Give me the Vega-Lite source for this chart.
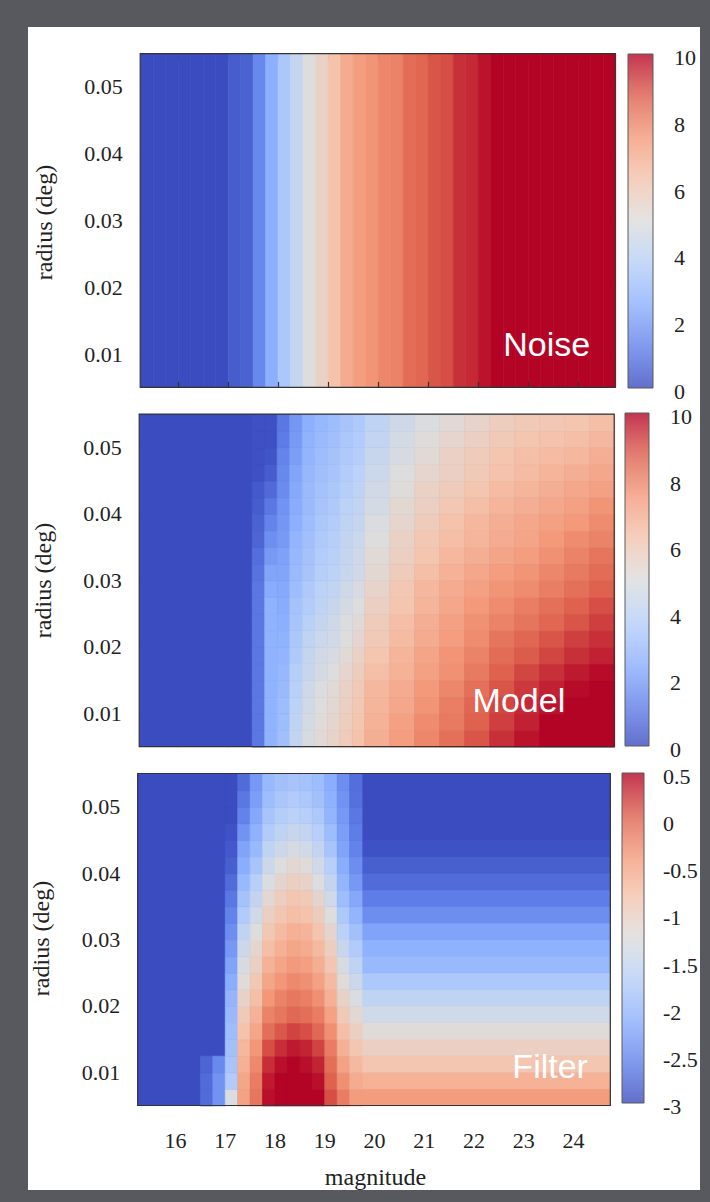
{
"$schema": "https://vega.github.io/schema/vega-lite/v6.json",
"background": "#58595e",
"padding": {"left": 28, "top": 27, "right": 10, "bottom": 12},
"spacing": 0,
"bounds": "flush",
"resolve": {"scale": {"color": "independent", "stroke": "independent"}, "legend": {"color": "independent", "stroke": "independent"}},
"config": {
 "view": {"stroke": null, "fill": "white"},
 "axis": {"domain": false, "grid": false, "tickSize": -6, "tickColor": "#333", "tickWidth": 1.2, "labelFont": "Liberation Serif", "labelFontSize": 22, "labelColor": "#222", "titleFont": "Liberation Serif", "titleFontSize": 24, "titleFontWeight": "normal", "titleColor": "#222"},
 "legend": {"labelFont": "Liberation Serif", "labelFontSize": 22, "labelColor": "#222", "labelOffset": 20, "padding": 0, "gradientStrokeColor": "#333", "gradientStrokeWidth": 1, "labelOverlap": false, "gradientOpacity": 0.8}
},
"datasets": {
 "noise": [
  {"x":15.375,"v":0},{"x":15.625,"v":0},{"x":15.875,"v":0},{"x":16.125,"v":0},{"x":16.375,"v":0},{"x":16.625,"v":0},{"x":16.875,"v":0},
  {"x":17.125,"v":0.4},{"x":17.375,"v":0.5},{"x":17.625,"v":1.4},{"x":17.875,"v":2.5},{"x":18.125,"v":3.4},{"x":18.375,"v":4.2},{"x":18.625,"v":5.0},{"x":18.875,"v":5.6},
  {"x":19.125,"v":6.3},{"x":19.375,"v":7.0},{"x":19.625,"v":7.4},{"x":19.875,"v":7.6},{"x":20.125,"v":7.9},{"x":20.375,"v":8.0},{"x":20.625,"v":8.5},{"x":20.875,"v":8.6},
  {"x":21.125,"v":8.9},{"x":21.375,"v":9.0},{"x":21.625,"v":9.4},{"x":21.875,"v":9.5},{"x":22.125,"v":9.8},{"x":22.375,"v":10},{"x":22.625,"v":10},{"x":22.875,"v":10},
  {"x":23.125,"v":10},{"x":23.375,"v":10},{"x":23.625,"v":10},{"x":23.875,"v":10},{"x":24.125,"v":10},{"x":24.375,"v":10},{"x":24.625,"v":10}
 ],
 "frame": [{"x0":15.25,"x1":24.75,"y0":0.005,"y1":0.055}],
 "labels": [{"p":"N","x":24.25,"y":0.0097,"t":"Noise"},{"p":"M","x":23.77,"y":0.0102,"t":"Model"},{"p":"F","x":24.3,"y":0.00914,"t":"Filter"}],
 "mblk": [{"x0":15.25,"x1":24.75,"y0":0.005,"y1":0.055,"v":0}],
 "mA": [
  {"x":17.625,"y":0.00625,"v":1.0},{"x":17.625,"y":0.00875,"v":1.0},{"x":17.625,"y":0.01125,"v":1.0},{"x":17.625,"y":0.01375,"v":1.0},{"x":17.625,"y":0.01625,"v":1.0},{"x":17.625,"y":0.01875,"v":1.0},{"x":17.625,"y":0.02125,"v":1.0},{"x":17.625,"y":0.02375,"v":1.0},{"x":17.625,"y":0.02625,"v":1.0},{"x":17.625,"y":0.02875,"v":1.0},{"x":17.625,"y":0.03125,"v":0.9},{"x":17.625,"y":0.03375,"v":0.8},{"x":17.625,"y":0.03625,"v":0.6},{"x":17.625,"y":0.03875,"v":0.5},{"x":17.625,"y":0.04125,"v":0.4},{"x":17.625,"y":0.04375,"v":0.3},{"x":17.625,"y":0.04625,"v":0.1},{"x":17.625,"y":0.04875,"v":0.1},{"x":17.625,"y":0.05125,"v":0.1},{"x":17.625,"y":0.05375,"v":0.1},
  {"x":17.875,"y":0.00625,"v":2.6},{"x":17.875,"y":0.00875,"v":2.6},{"x":17.875,"y":0.01125,"v":2.6},{"x":17.875,"y":0.01375,"v":2.6},{"x":17.875,"y":0.01625,"v":2.6},{"x":17.875,"y":0.01875,"v":2.6},{"x":17.875,"y":0.02125,"v":2.6},{"x":17.875,"y":0.02375,"v":2.6},{"x":17.875,"y":0.02625,"v":2.6},{"x":17.875,"y":0.02875,"v":2.4},{"x":17.875,"y":0.03125,"v":2.2},{"x":17.875,"y":0.03375,"v":1.9},{"x":17.875,"y":0.03625,"v":1.6},{"x":17.875,"y":0.03875,"v":1.3},{"x":17.875,"y":0.04125,"v":1.0},{"x":17.875,"y":0.04375,"v":0.7},{"x":17.875,"y":0.04625,"v":0.4},{"x":17.875,"y":0.04875,"v":0.2},{"x":17.875,"y":0.05125,"v":0.1},{"x":17.875,"y":0.05375,"v":0.1},
  {"x":18.125,"y":0.00625,"v":3.1},{"x":18.125,"y":0.00875,"v":3.0},{"x":18.125,"y":0.01125,"v":3.0},{"x":18.125,"y":0.01375,"v":2.9},{"x":18.125,"y":0.01625,"v":2.8},{"x":18.125,"y":0.01875,"v":2.7},{"x":18.125,"y":0.02125,"v":2.6},{"x":18.125,"y":0.02375,"v":2.5},{"x":18.125,"y":0.02625,"v":2.4},{"x":18.125,"y":0.02875,"v":2.3},{"x":18.125,"y":0.03125,"v":2.2},{"x":18.125,"y":0.03375,"v":2.1},{"x":18.125,"y":0.03625,"v":1.9},{"x":18.125,"y":0.03875,"v":1.8},{"x":18.125,"y":0.04125,"v":1.7},{"x":18.125,"y":0.04375,"v":1.5},{"x":18.125,"y":0.04625,"v":1.4},{"x":18.125,"y":0.04875,"v":1.3},{"x":18.125,"y":0.05125,"v":1.1},{"x":18.125,"y":0.05375,"v":1.0},
  {"x":18.375,"y":0.00625,"v":4.1},{"x":18.375,"y":0.00875,"v":4.0},{"x":18.375,"y":0.01125,"v":3.9},{"x":18.375,"y":0.01375,"v":3.8},{"x":18.375,"y":0.01625,"v":3.7},{"x":18.375,"y":0.01875,"v":3.5},{"x":18.375,"y":0.02125,"v":3.4},{"x":18.375,"y":0.02375,"v":3.3},{"x":18.375,"y":0.02625,"v":3.2},{"x":18.375,"y":0.02875,"v":3.0},{"x":18.375,"y":0.03125,"v":2.9},{"x":18.375,"y":0.03375,"v":2.8},{"x":18.375,"y":0.03625,"v":2.7},{"x":18.375,"y":0.03875,"v":2.5},{"x":18.375,"y":0.04125,"v":2.4},{"x":18.375,"y":0.04375,"v":2.3},{"x":18.375,"y":0.04625,"v":2.2},{"x":18.375,"y":0.04875,"v":2.0},{"x":18.375,"y":0.05125,"v":1.9},{"x":18.375,"y":0.05375,"v":1.8},
  {"x":18.625,"y":0.00625,"v":4.8},{"x":18.625,"y":0.00875,"v":4.7},{"x":18.625,"y":0.01125,"v":4.6},{"x":18.625,"y":0.01375,"v":4.5},{"x":18.625,"y":0.01625,"v":4.3},{"x":18.625,"y":0.01875,"v":4.2},{"x":18.625,"y":0.02125,"v":4.0},{"x":18.625,"y":0.02375,"v":3.8},{"x":18.625,"y":0.02625,"v":3.6},{"x":18.625,"y":0.02875,"v":3.5},{"x":18.625,"y":0.03125,"v":3.3},{"x":18.625,"y":0.03375,"v":3.2},{"x":18.625,"y":0.03625,"v":3.1},{"x":18.625,"y":0.03875,"v":3.0},{"x":18.625,"y":0.04125,"v":2.9},{"x":18.625,"y":0.04375,"v":2.9},{"x":18.625,"y":0.04625,"v":2.8},{"x":18.625,"y":0.04875,"v":2.7},{"x":18.625,"y":0.05125,"v":2.6},{"x":18.625,"y":0.05375,"v":2.5},
  {"x":18.875,"y":0.00625,"v":5.2},{"x":18.875,"y":0.00875,"v":5.1},{"x":18.875,"y":0.01125,"v":5.0},{"x":18.875,"y":0.01375,"v":4.9},{"x":18.875,"y":0.01625,"v":4.7},{"x":18.875,"y":0.01875,"v":4.6},{"x":18.875,"y":0.02125,"v":4.4},{"x":18.875,"y":0.02375,"v":4.2},{"x":18.875,"y":0.02625,"v":4.0},{"x":18.875,"y":0.02875,"v":3.9},{"x":18.875,"y":0.03125,"v":3.7},{"x":18.875,"y":0.03375,"v":3.6},{"x":18.875,"y":0.03625,"v":3.5},{"x":18.875,"y":0.03875,"v":3.4},{"x":18.875,"y":0.04125,"v":3.3},{"x":18.875,"y":0.04375,"v":3.2},{"x":18.875,"y":0.04625,"v":3.1},{"x":18.875,"y":0.04875,"v":3.0},{"x":18.875,"y":0.05125,"v":2.9},{"x":18.875,"y":0.05375,"v":2.8},
  {"x":19.125,"y":0.00625,"v":5.5},{"x":19.125,"y":0.00875,"v":5.4},{"x":19.125,"y":0.01125,"v":5.3},{"x":19.125,"y":0.01375,"v":5.2},{"x":19.125,"y":0.01625,"v":5.0},{"x":19.125,"y":0.01875,"v":4.8},{"x":19.125,"y":0.02125,"v":4.6},{"x":19.125,"y":0.02375,"v":4.5},{"x":19.125,"y":0.02625,"v":4.3},{"x":19.125,"y":0.02875,"v":4.1},{"x":19.125,"y":0.03125,"v":3.9},{"x":19.125,"y":0.03375,"v":3.8},{"x":19.125,"y":0.03625,"v":3.7},{"x":19.125,"y":0.03875,"v":3.6},{"x":19.125,"y":0.04125,"v":3.5},{"x":19.125,"y":0.04375,"v":3.4},{"x":19.125,"y":0.04625,"v":3.3},{"x":19.125,"y":0.04875,"v":3.2},{"x":19.125,"y":0.05125,"v":3.1},{"x":19.125,"y":0.05375,"v":3.0},
  {"x":19.375,"y":0.00625,"v":5.9},{"x":19.375,"y":0.00875,"v":5.8},{"x":19.375,"y":0.01125,"v":5.7},{"x":19.375,"y":0.01375,"v":5.6},{"x":19.375,"y":0.01625,"v":5.4},{"x":19.375,"y":0.01875,"v":5.2},{"x":19.375,"y":0.02125,"v":5.0},{"x":19.375,"y":0.02375,"v":4.9},{"x":19.375,"y":0.02625,"v":4.7},{"x":19.375,"y":0.02875,"v":4.5},{"x":19.375,"y":0.03125,"v":4.3},{"x":19.375,"y":0.03375,"v":4.2},{"x":19.375,"y":0.03625,"v":4.1},{"x":19.375,"y":0.03875,"v":4.0},{"x":19.375,"y":0.04125,"v":3.9},{"x":19.375,"y":0.04375,"v":3.7},{"x":19.375,"y":0.04625,"v":3.6},{"x":19.375,"y":0.04875,"v":3.5},{"x":19.375,"y":0.05125,"v":3.4},{"x":19.375,"y":0.05375,"v":3.3},
  {"x":19.625,"y":0.00625,"v":6.3},{"x":19.625,"y":0.00875,"v":6.2},{"x":19.625,"y":0.01125,"v":6.1},{"x":19.625,"y":0.01375,"v":6.0},{"x":19.625,"y":0.01625,"v":5.8},{"x":19.625,"y":0.01875,"v":5.6},{"x":19.625,"y":0.02125,"v":5.4},{"x":19.625,"y":0.02375,"v":5.2},{"x":19.625,"y":0.02625,"v":5.0},{"x":19.625,"y":0.02875,"v":4.8},{"x":19.625,"y":0.03125,"v":4.6},{"x":19.625,"y":0.03375,"v":4.5},{"x":19.625,"y":0.03625,"v":4.4},{"x":19.625,"y":0.03875,"v":4.2},{"x":19.625,"y":0.04125,"v":4.1},{"x":19.625,"y":0.04375,"v":4.0},{"x":19.625,"y":0.04625,"v":3.9},{"x":19.625,"y":0.04875,"v":3.7},{"x":19.625,"y":0.05125,"v":3.6},{"x":19.625,"y":0.05375,"v":3.5}
 ],
 "mB": [
  {"x":20.0,"y":0.00625,"v":6.9},{"x":20.0,"y":0.00875,"v":6.8},{"x":20.0,"y":0.01125,"v":6.7},{"x":20.0,"y":0.01375,"v":6.6},{"x":20.0,"y":0.01625,"v":6.4},{"x":20.0,"y":0.01875,"v":6.2},{"x":20.0,"y":0.02125,"v":6.0},{"x":20.0,"y":0.02375,"v":5.9},{"x":20.0,"y":0.02625,"v":5.7},{"x":20.0,"y":0.02875,"v":5.5},{"x":20.0,"y":0.03125,"v":5.3},{"x":20.0,"y":0.03375,"v":5.2},{"x":20.0,"y":0.03625,"v":5.0},{"x":20.0,"y":0.03875,"v":4.9},{"x":20.0,"y":0.04125,"v":4.7},{"x":20.0,"y":0.04375,"v":4.6},{"x":20.0,"y":0.04625,"v":4.4},{"x":20.0,"y":0.04875,"v":4.3},{"x":20.0,"y":0.05125,"v":4.1},{"x":20.0,"y":0.05375,"v":4.0},
  {"x":20.5,"y":0.00625,"v":7.4},{"x":20.5,"y":0.00875,"v":7.3},{"x":20.5,"y":0.01125,"v":7.1},{"x":20.5,"y":0.01375,"v":7.0},{"x":20.5,"y":0.01625,"v":6.8},{"x":20.5,"y":0.01875,"v":6.7},{"x":20.5,"y":0.02125,"v":6.5},{"x":20.5,"y":0.02375,"v":6.4},{"x":20.5,"y":0.02625,"v":6.2},{"x":20.5,"y":0.02875,"v":6.1},{"x":20.5,"y":0.03125,"v":5.9},{"x":20.5,"y":0.03375,"v":5.7},{"x":20.5,"y":0.03625,"v":5.6},{"x":20.5,"y":0.03875,"v":5.4},{"x":20.5,"y":0.04125,"v":5.3},{"x":20.5,"y":0.04375,"v":5.1},{"x":20.5,"y":0.04625,"v":5.0},{"x":20.5,"y":0.04875,"v":4.8},{"x":20.5,"y":0.05125,"v":4.7},{"x":20.5,"y":0.05375,"v":4.5},
  {"x":21.0,"y":0.00625,"v":7.9},{"x":21.0,"y":0.00875,"v":7.8},{"x":21.0,"y":0.01125,"v":7.6},{"x":21.0,"y":0.01375,"v":7.5},{"x":21.0,"y":0.01625,"v":7.3},{"x":21.0,"y":0.01875,"v":7.2},{"x":21.0,"y":0.02125,"v":7.0},{"x":21.0,"y":0.02375,"v":6.9},{"x":21.0,"y":0.02625,"v":6.7},{"x":21.0,"y":0.02875,"v":6.6},{"x":21.0,"y":0.03125,"v":6.4},{"x":21.0,"y":0.03375,"v":6.2},{"x":21.0,"y":0.03625,"v":6.1},{"x":21.0,"y":0.03875,"v":5.9},{"x":21.0,"y":0.04125,"v":5.7},{"x":21.0,"y":0.04375,"v":5.6},{"x":21.0,"y":0.04625,"v":5.4},{"x":21.0,"y":0.04875,"v":5.2},{"x":21.0,"y":0.05125,"v":5.1},{"x":21.0,"y":0.05375,"v":4.9},
  {"x":21.5,"y":0.00625,"v":8.4},{"x":21.5,"y":0.00875,"v":8.2},{"x":21.5,"y":0.01125,"v":8.1},{"x":21.5,"y":0.01375,"v":7.9},{"x":21.5,"y":0.01625,"v":7.7},{"x":21.5,"y":0.01875,"v":7.6},{"x":21.5,"y":0.02125,"v":7.4},{"x":21.5,"y":0.02375,"v":7.3},{"x":21.5,"y":0.02625,"v":7.1},{"x":21.5,"y":0.02875,"v":7.0},{"x":21.5,"y":0.03125,"v":6.8},{"x":21.5,"y":0.03375,"v":6.6},{"x":21.5,"y":0.03625,"v":6.4},{"x":21.5,"y":0.03875,"v":6.3},{"x":21.5,"y":0.04125,"v":6.1},{"x":21.5,"y":0.04375,"v":5.9},{"x":21.5,"y":0.04625,"v":5.7},{"x":21.5,"y":0.04875,"v":5.6},{"x":21.5,"y":0.05125,"v":5.4},{"x":21.5,"y":0.05375,"v":5.2},
  {"x":22.0,"y":0.00625,"v":8.9},{"x":22.0,"y":0.00875,"v":8.7},{"x":22.0,"y":0.01125,"v":8.6},{"x":22.0,"y":0.01375,"v":8.4},{"x":22.0,"y":0.01625,"v":8.2},{"x":22.0,"y":0.01875,"v":8.0},{"x":22.0,"y":0.02125,"v":7.8},{"x":22.0,"y":0.02375,"v":7.7},{"x":22.0,"y":0.02625,"v":7.5},{"x":22.0,"y":0.02875,"v":7.3},{"x":22.0,"y":0.03125,"v":7.1},{"x":22.0,"y":0.03375,"v":6.9},{"x":22.0,"y":0.03625,"v":6.7},{"x":22.0,"y":0.03875,"v":6.6},{"x":22.0,"y":0.04125,"v":6.4},{"x":22.0,"y":0.04375,"v":6.2},{"x":22.0,"y":0.04625,"v":6.0},{"x":22.0,"y":0.04875,"v":5.9},{"x":22.0,"y":0.05125,"v":5.7},{"x":22.0,"y":0.05375,"v":5.5},
  {"x":22.5,"y":0.00625,"v":9.4},{"x":22.5,"y":0.00875,"v":9.2},{"x":22.5,"y":0.01125,"v":9.1},{"x":22.5,"y":0.01375,"v":8.9},{"x":22.5,"y":0.01625,"v":8.7},{"x":22.5,"y":0.01875,"v":8.5},{"x":22.5,"y":0.02125,"v":8.3},{"x":22.5,"y":0.02375,"v":8.0},{"x":22.5,"y":0.02625,"v":7.8},{"x":22.5,"y":0.02875,"v":7.6},{"x":22.5,"y":0.03125,"v":7.4},{"x":22.5,"y":0.03375,"v":7.2},{"x":22.5,"y":0.03625,"v":7.0},{"x":22.5,"y":0.03875,"v":6.9},{"x":22.5,"y":0.04125,"v":6.7},{"x":22.5,"y":0.04375,"v":6.5},{"x":22.5,"y":0.04625,"v":6.3},{"x":22.5,"y":0.04875,"v":6.2},{"x":22.5,"y":0.05125,"v":6.0},{"x":22.5,"y":0.05375,"v":5.8},
  {"x":23.0,"y":0.00625,"v":9.8},{"x":23.0,"y":0.00875,"v":9.6},{"x":23.0,"y":0.01125,"v":9.5},{"x":23.0,"y":0.01375,"v":9.3},{"x":23.0,"y":0.01625,"v":9.1},{"x":23.0,"y":0.01875,"v":8.8},{"x":23.0,"y":0.02125,"v":8.6},{"x":23.0,"y":0.02375,"v":8.3},{"x":23.0,"y":0.02625,"v":8.1},{"x":23.0,"y":0.02875,"v":7.8},{"x":23.0,"y":0.03125,"v":7.6},{"x":23.0,"y":0.03375,"v":7.4},{"x":23.0,"y":0.03625,"v":7.2},{"x":23.0,"y":0.03875,"v":7.1},{"x":23.0,"y":0.04125,"v":6.9},{"x":23.0,"y":0.04375,"v":6.7},{"x":23.0,"y":0.04625,"v":6.5},{"x":23.0,"y":0.04875,"v":6.4},{"x":23.0,"y":0.05125,"v":6.2},{"x":23.0,"y":0.05375,"v":6.0},
  {"x":23.5,"y":0.00625,"v":10.2},{"x":23.5,"y":0.00875,"v":10.0},{"x":23.5,"y":0.01125,"v":9.8},{"x":23.5,"y":0.01375,"v":9.6},{"x":23.5,"y":0.01625,"v":9.4},{"x":23.5,"y":0.01875,"v":9.1},{"x":23.5,"y":0.02125,"v":8.9},{"x":23.5,"y":0.02375,"v":8.6},{"x":23.5,"y":0.02625,"v":8.4},{"x":23.5,"y":0.02875,"v":8.1},{"x":23.5,"y":0.03125,"v":7.9},{"x":23.5,"y":0.03375,"v":7.7},{"x":23.5,"y":0.03625,"v":7.5},{"x":23.5,"y":0.03875,"v":7.3},{"x":23.5,"y":0.04125,"v":7.1},{"x":23.5,"y":0.04375,"v":6.9},{"x":23.5,"y":0.04625,"v":6.7},{"x":23.5,"y":0.04875,"v":6.5},{"x":23.5,"y":0.05125,"v":6.3},{"x":23.5,"y":0.05375,"v":6.1},
  {"x":24.0,"y":0.00625,"v":10.4},{"x":24.0,"y":0.00875,"v":10.2},{"x":24.0,"y":0.01125,"v":10.1},{"x":24.0,"y":0.01375,"v":9.9},{"x":24.0,"y":0.01625,"v":9.7},{"x":24.0,"y":0.01875,"v":9.4},{"x":24.0,"y":0.02125,"v":9.2},{"x":24.0,"y":0.02375,"v":8.9},{"x":24.0,"y":0.02625,"v":8.7},{"x":24.0,"y":0.02875,"v":8.4},{"x":24.0,"y":0.03125,"v":8.2},{"x":24.0,"y":0.03375,"v":8.0},{"x":24.0,"y":0.03625,"v":7.8},{"x":24.0,"y":0.03875,"v":7.5},{"x":24.0,"y":0.04125,"v":7.3},{"x":24.0,"y":0.04375,"v":7.1},{"x":24.0,"y":0.04625,"v":6.9},{"x":24.0,"y":0.04875,"v":6.6},{"x":24.0,"y":0.05125,"v":6.4},{"x":24.0,"y":0.05375,"v":6.2},
  {"x":24.5,"y":0.00625,"v":10.6},{"x":24.5,"y":0.00875,"v":10.4},{"x":24.5,"y":0.01125,"v":10.3},{"x":24.5,"y":0.01375,"v":10.1},{"x":24.5,"y":0.01625,"v":9.9},{"x":24.5,"y":0.01875,"v":9.6},{"x":24.5,"y":0.02125,"v":9.4},{"x":24.5,"y":0.02375,"v":9.2},{"x":24.5,"y":0.02625,"v":9.0},{"x":24.5,"y":0.02875,"v":8.7},{"x":24.5,"y":0.03125,"v":8.5},{"x":24.5,"y":0.03375,"v":8.3},{"x":24.5,"y":0.03625,"v":8.0},{"x":24.5,"y":0.03875,"v":7.8},{"x":24.5,"y":0.04125,"v":7.6},{"x":24.5,"y":0.04375,"v":7.3},{"x":24.5,"y":0.04625,"v":7.1},{"x":24.5,"y":0.04875,"v":6.9},{"x":24.5,"y":0.05125,"v":6.6},{"x":24.5,"y":0.05375,"v":6.4}
 ],
 "fblk": [
  {"x0":15.25,"x1":24.75,"y0":0.005,"y1":0.055,"v":-3},
  {"x0":19.75,"x1":24.75,"y0":0.005,"y1":0.0075,"v":-0.4},
  {"x0":19.75,"x1":24.75,"y0":0.0075,"y1":0.01,"v":-0.62},
  {"x0":19.75,"x1":24.75,"y0":0.01,"y1":0.0125,"v":-0.85},
  {"x0":19.75,"x1":24.75,"y0":0.0125,"y1":0.015,"v":-1.0},
  {"x0":19.75,"x1":24.75,"y0":0.015,"y1":0.0175,"v":-1.2},
  {"x0":19.75,"x1":24.75,"y0":0.0175,"y1":0.02,"v":-1.4},
  {"x0":19.75,"x1":24.75,"y0":0.02,"y1":0.0225,"v":-1.6},
  {"x0":19.75,"x1":24.75,"y0":0.0225,"y1":0.025,"v":-1.8},
  {"x0":19.75,"x1":24.75,"y0":0.025,"y1":0.0275,"v":-2.0},
  {"x0":19.75,"x1":24.75,"y0":0.0275,"y1":0.03,"v":-2.1},
  {"x0":19.75,"x1":24.75,"y0":0.03,"y1":0.0325,"v":-2.25},
  {"x0":19.75,"x1":24.75,"y0":0.0325,"y1":0.035,"v":-2.45},
  {"x0":19.75,"x1":24.75,"y0":0.035,"y1":0.0375,"v":-2.6},
  {"x0":19.75,"x1":24.75,"y0":0.0375,"y1":0.04,"v":-2.75},
  {"x0":19.75,"x1":24.75,"y0":0.04,"y1":0.0425,"v":-2.85},
  {"x0":19.75,"x1":24.75,"y0":0.0425,"y1":0.045,"v":-2.95}
 ],
 "fC": [
  {"x":16.625,"y":0.00625,"v":-2.75},{"x":16.625,"y":0.00875,"v":-2.75},{"x":16.625,"y":0.01125,"v":-2.8},
  {"x":16.875,"y":0.00625,"v":-2.4},{"x":16.875,"y":0.00875,"v":-2.4},{"x":16.875,"y":0.01125,"v":-2.5},
  {"x":17.125,"y":0.00625,"v":-1.3},{"x":17.125,"y":0.00875,"v":-1.75},{"x":17.125,"y":0.01125,"v":-1.85},{"x":17.125,"y":0.01375,"v":-1.9},{"x":17.125,"y":0.01625,"v":-1.95},{"x":17.125,"y":0.01875,"v":-2.0},{"x":17.125,"y":0.02125,"v":-2.05},{"x":17.125,"y":0.02375,"v":-2.15},{"x":17.125,"y":0.02625,"v":-2.25},{"x":17.125,"y":0.02875,"v":-2.35},{"x":17.125,"y":0.03125,"v":-2.45},{"x":17.125,"y":0.03375,"v":-2.55},{"x":17.125,"y":0.03625,"v":-2.65},{"x":17.125,"y":0.03875,"v":-2.75},{"x":17.125,"y":0.04125,"v":-2.85},{"x":17.125,"y":0.04375,"v":-2.9},{"x":17.125,"y":0.04625,"v":-2.95},{"x":17.125,"y":0.04875,"v":-3},{"x":17.125,"y":0.05125,"v":-3},{"x":17.125,"y":0.05375,"v":-3},
  {"x":17.375,"y":0.00625,"v":-0.45},{"x":17.375,"y":0.00875,"v":-0.5},{"x":17.375,"y":0.01125,"v":-0.6},{"x":17.375,"y":0.01375,"v":-0.68},{"x":17.375,"y":0.01625,"v":-0.8},{"x":17.375,"y":0.01875,"v":-0.92},{"x":17.375,"y":0.02125,"v":-1.05},{"x":17.375,"y":0.02375,"v":-1.2},{"x":17.375,"y":0.02625,"v":-1.32},{"x":17.375,"y":0.02875,"v":-1.45},{"x":17.375,"y":0.03125,"v":-1.6},{"x":17.375,"y":0.03375,"v":-1.75},{"x":17.375,"y":0.03625,"v":-1.88},{"x":17.375,"y":0.03875,"v":-2.0},{"x":17.375,"y":0.04125,"v":-2.15},{"x":17.375,"y":0.04375,"v":-2.25},{"x":17.375,"y":0.04625,"v":-2.4},{"x":17.375,"y":0.04875,"v":-2.55},{"x":17.375,"y":0.05125,"v":-2.65},{"x":17.375,"y":0.05375,"v":-2.75},
  {"x":17.625,"y":0.00625,"v":-0.1},{"x":17.625,"y":0.00875,"v":-0.15},{"x":17.625,"y":0.01125,"v":-0.25},{"x":17.625,"y":0.01375,"v":-0.35},{"x":17.625,"y":0.01625,"v":-0.5},{"x":17.625,"y":0.01875,"v":-0.62},{"x":17.625,"y":0.02125,"v":-0.75},{"x":17.625,"y":0.02375,"v":-0.88},{"x":17.625,"y":0.02625,"v":-1.0},{"x":17.625,"y":0.02875,"v":-1.12},{"x":17.625,"y":0.03125,"v":-1.25},{"x":17.625,"y":0.03375,"v":-1.4},{"x":17.625,"y":0.03625,"v":-1.55},{"x":17.625,"y":0.03875,"v":-1.7},{"x":17.625,"y":0.04125,"v":-1.85},{"x":17.625,"y":0.04375,"v":-2.0},{"x":17.625,"y":0.04625,"v":-2.1},{"x":17.625,"y":0.04875,"v":-2.2},{"x":17.625,"y":0.05125,"v":-2.3},{"x":17.625,"y":0.05375,"v":-2.35},
  {"x":17.875,"y":0.00625,"v":0.45},{"x":17.875,"y":0.00875,"v":0.4},{"x":17.875,"y":0.01125,"v":0.3},{"x":17.875,"y":0.01375,"v":0.15},{"x":17.875,"y":0.01625,"v":-0.05},{"x":17.875,"y":0.01875,"v":-0.2},{"x":17.875,"y":0.02125,"v":-0.35},{"x":17.875,"y":0.02375,"v":-0.5},{"x":17.875,"y":0.02625,"v":-0.62},{"x":17.875,"y":0.02875,"v":-0.75},{"x":17.875,"y":0.03125,"v":-0.88},{"x":17.875,"y":0.03375,"v":-1.0},{"x":17.875,"y":0.03625,"v":-1.15},{"x":17.875,"y":0.03875,"v":-1.3},{"x":17.875,"y":0.04125,"v":-1.45},{"x":17.875,"y":0.04375,"v":-1.6},{"x":17.875,"y":0.04625,"v":-1.75},{"x":17.875,"y":0.04875,"v":-1.85},{"x":17.875,"y":0.05125,"v":-1.95},{"x":17.875,"y":0.05375,"v":-2.0},
  {"x":18.125,"y":0.00625,"v":0.5},{"x":18.125,"y":0.00875,"v":0.5},{"x":18.125,"y":0.01125,"v":0.45},{"x":18.125,"y":0.01375,"v":0.3},{"x":18.125,"y":0.01625,"v":0.1},{"x":18.125,"y":0.01875,"v":-0.1},{"x":18.125,"y":0.02125,"v":-0.2},{"x":18.125,"y":0.02375,"v":-0.35},{"x":18.125,"y":0.02625,"v":-0.48},{"x":18.125,"y":0.02875,"v":-0.6},{"x":18.125,"y":0.03125,"v":-0.72},{"x":18.125,"y":0.03375,"v":-0.85},{"x":18.125,"y":0.03625,"v":-0.97},{"x":18.125,"y":0.03875,"v":-1.1},{"x":18.125,"y":0.04125,"v":-1.25},{"x":18.125,"y":0.04375,"v":-1.45},{"x":18.125,"y":0.04625,"v":-1.6},{"x":18.125,"y":0.04875,"v":-1.72},{"x":18.125,"y":0.05125,"v":-1.82},{"x":18.125,"y":0.05375,"v":-1.9},
  {"x":18.375,"y":0.00625,"v":0.55},{"x":18.375,"y":0.00875,"v":0.55},{"x":18.375,"y":0.01125,"v":0.5},{"x":18.375,"y":0.01375,"v":0.4},{"x":18.375,"y":0.01625,"v":0.2},{"x":18.375,"y":0.01875,"v":0.0},{"x":18.375,"y":0.02125,"v":-0.12},{"x":18.375,"y":0.02375,"v":-0.25},{"x":18.375,"y":0.02625,"v":-0.38},{"x":18.375,"y":0.02875,"v":-0.5},{"x":18.375,"y":0.03125,"v":-0.6},{"x":18.375,"y":0.03375,"v":-0.75},{"x":18.375,"y":0.03625,"v":-0.85},{"x":18.375,"y":0.03875,"v":-1.0},{"x":18.375,"y":0.04125,"v":-1.15},{"x":18.375,"y":0.04375,"v":-1.35},{"x":18.375,"y":0.04625,"v":-1.5},{"x":18.375,"y":0.04875,"v":-1.65},{"x":18.375,"y":0.05125,"v":-1.75},{"x":18.375,"y":0.05375,"v":-1.85},
  {"x":18.625,"y":0.00625,"v":0.55},{"x":18.625,"y":0.00875,"v":0.5},{"x":18.625,"y":0.01125,"v":0.45},{"x":18.625,"y":0.01375,"v":0.35},{"x":18.625,"y":0.01625,"v":0.15},{"x":18.625,"y":0.01875,"v":-0.05},{"x":18.625,"y":0.02125,"v":-0.17},{"x":18.625,"y":0.02375,"v":-0.3},{"x":18.625,"y":0.02625,"v":-0.43},{"x":18.625,"y":0.02875,"v":-0.55},{"x":18.625,"y":0.03125,"v":-0.65},{"x":18.625,"y":0.03375,"v":-0.8},{"x":18.625,"y":0.03625,"v":-0.9},{"x":18.625,"y":0.03875,"v":-1.05},{"x":18.625,"y":0.04125,"v":-1.2},{"x":18.625,"y":0.04375,"v":-1.4},{"x":18.625,"y":0.04625,"v":-1.55},{"x":18.625,"y":0.04875,"v":-1.7},{"x":18.625,"y":0.05125,"v":-1.8},{"x":18.625,"y":0.05375,"v":-1.88},
  {"x":18.875,"y":0.00625,"v":0.5},{"x":18.875,"y":0.00875,"v":0.45},{"x":18.875,"y":0.01125,"v":0.35},{"x":18.875,"y":0.01375,"v":0.2},{"x":18.875,"y":0.01625,"v":0.0},{"x":18.875,"y":0.01875,"v":-0.15},{"x":18.875,"y":0.02125,"v":-0.3},{"x":18.875,"y":0.02375,"v":-0.45},{"x":18.875,"y":0.02625,"v":-0.58},{"x":18.875,"y":0.02875,"v":-0.7},{"x":18.875,"y":0.03125,"v":-0.82},{"x":18.875,"y":0.03375,"v":-0.95},{"x":18.875,"y":0.03625,"v":-1.1},{"x":18.875,"y":0.03875,"v":-1.25},{"x":18.875,"y":0.04125,"v":-1.4},{"x":18.875,"y":0.04375,"v":-1.55},{"x":18.875,"y":0.04625,"v":-1.7},{"x":18.875,"y":0.04875,"v":-1.8},{"x":18.875,"y":0.05125,"v":-1.9},{"x":18.875,"y":0.05375,"v":-1.95},
  {"x":19.125,"y":0.00625,"v":0.15},{"x":19.125,"y":0.00875,"v":0.05},{"x":19.125,"y":0.01125,"v":-0.05},{"x":19.125,"y":0.01375,"v":-0.15},{"x":19.125,"y":0.01625,"v":-0.3},{"x":19.125,"y":0.01875,"v":-0.45},{"x":19.125,"y":0.02125,"v":-0.6},{"x":19.125,"y":0.02375,"v":-0.72},{"x":19.125,"y":0.02625,"v":-0.85},{"x":19.125,"y":0.02875,"v":-0.98},{"x":19.125,"y":0.03125,"v":-1.1},{"x":19.125,"y":0.03375,"v":-1.25},{"x":19.125,"y":0.03625,"v":-1.4},{"x":19.125,"y":0.03875,"v":-1.55},{"x":19.125,"y":0.04125,"v":-1.7},{"x":19.125,"y":0.04375,"v":-1.85},{"x":19.125,"y":0.04625,"v":-1.95},{"x":19.125,"y":0.04875,"v":-2.05},{"x":19.125,"y":0.05125,"v":-2.1},{"x":19.125,"y":0.05375,"v":-2.15},
  {"x":19.375,"y":0.00625,"v":-0.15},{"x":19.375,"y":0.00875,"v":-0.3},{"x":19.375,"y":0.01125,"v":-0.45},{"x":19.375,"y":0.01375,"v":-0.6},{"x":19.375,"y":0.01625,"v":-0.75},{"x":19.375,"y":0.01875,"v":-0.9},{"x":19.375,"y":0.02125,"v":-1.05},{"x":19.375,"y":0.02375,"v":-1.2},{"x":19.375,"y":0.02625,"v":-1.35},{"x":19.375,"y":0.02875,"v":-1.5},{"x":19.375,"y":0.03125,"v":-1.65},{"x":19.375,"y":0.03375,"v":-1.8},{"x":19.375,"y":0.03625,"v":-1.95},{"x":19.375,"y":0.03875,"v":-2.05},{"x":19.375,"y":0.04125,"v":-2.15},{"x":19.375,"y":0.04375,"v":-2.25},{"x":19.375,"y":0.04625,"v":-2.3},{"x":19.375,"y":0.04875,"v":-2.35},{"x":19.375,"y":0.05125,"v":-2.4},{"x":19.375,"y":0.05375,"v":-2.45},
  {"x":19.625,"y":0.00625,"v":-0.4},{"x":19.625,"y":0.00875,"v":-0.55},{"x":19.625,"y":0.01125,"v":-0.7},{"x":19.625,"y":0.01375,"v":-0.85},{"x":19.625,"y":0.01625,"v":-1.0},{"x":19.625,"y":0.01875,"v":-1.15},{"x":19.625,"y":0.02125,"v":-1.3},{"x":19.625,"y":0.02375,"v":-1.45},{"x":19.625,"y":0.02625,"v":-1.6},{"x":19.625,"y":0.02875,"v":-1.75},{"x":19.625,"y":0.03125,"v":-1.9},{"x":19.625,"y":0.03375,"v":-2.05},{"x":19.625,"y":0.03625,"v":-2.2},{"x":19.625,"y":0.03875,"v":-2.35},{"x":19.625,"y":0.04125,"v":-2.45},{"x":19.625,"y":0.04375,"v":-2.55},{"x":19.625,"y":0.04625,"v":-2.6},{"x":19.625,"y":0.04875,"v":-2.65},{"x":19.625,"y":0.05125,"v":-2.7},{"x":19.625,"y":0.05375,"v":-2.72}
 ]
},
"vconcat": [
 {
  "width": 672, "height": 373,
  "resolve": {"scale": {"x": "independent", "y": "independent"}},
  "layer": [
   {
    "data": {"name": "noise"},
    "mark": {"type": "rect", "strokeWidth": 0.7},
    "encoding": {
     "x": {"field": "x", "type": "quantitative", "bin": {"extent": [15.25, 24.75], "step": 0.25, "nice": false}, "scale": {"domain": [13.006, 26.446], "nice": false, "zero": false}, "axis": {"orient": "bottom", "values": [16,17,18,19,20,21,22,23,24], "labels": false, "offset": -12.6, "title": null}},
     "y": {"datum": 0.005, "type": "quantitative", "scale": {"domain": [0.00311, 0.05898], "nice": false, "zero": false}, "axis": {"orient": "left", "values": [0.01,0.02,0.03,0.04,0.05], "format": ".2f", "offset": -112.2, "labelPadding": 24, "title": "radius (deg)", "titleX": -89, "titleY": 195, "titleBaseline": "alphabetic", "titleAlign": "center", "titleAngle": -90}},
     "y2": {"datum": 0.055},
     "color": {"field": "v", "type": "quantitative", "scale": {"domain": [0,1.25,2.5,3.75,5,6.25,7.5,8.75,10], "range": ["#3b4cc0","#6282ea","#8db0fe","#b8d0f9","#dddddd","#f5c4ad","#f49a7b","#de604d","#b40426"], "interpolate": "rgb", "clamp": true}, "legend": {"type": "gradient", "orient": "none", "legendX": 600, "legendY": 27, "direction": "vertical", "gradientLength": 334, "gradientThickness": 25, "labelOffset": 21, "values": [0,2,4,6,8,10], "title": null, "encode": {"labels": {"update": {"baseline": {"value": "middle"}, "dy": {"value": 4}}}}}},
     "stroke": {"field": "v", "type": "quantitative", "scale": {"domain": [0,1.25,2.5,3.75,5,6.25,7.5,8.75,10.0001], "range": ["#3b4cc0","#6282ea","#8db0fe","#b8d0f9","#dddddd","#f5c4ad","#f49a7b","#de604d","#b40426"], "interpolate": "rgb", "clamp": true}, "legend": null}
    }
   },
   {
    "data": {"name": "frame"},
    "mark": {"type": "rect", "fill": "transparent", "stroke": "#333", "strokeWidth": 1.2},
    "encoding": {
     "x": {"field": "x0", "type": "quantitative", "scale": {"domain": [13.006, 26.446], "nice": false, "zero": false}, "axis": {"orient": "top", "values": [16,17,18,19,20,21,22,23,24], "labels": false, "offset": -26.6, "title": null}},
     "x2": {"field": "x1"},
     "y": {"field": "y0", "type": "quantitative", "scale": {"domain": [0.00311, 0.05898], "nice": false, "zero": false}, "axis": {"orient": "right", "values": [0.01,0.02,0.03,0.04,0.05], "labels": false, "offset": -84.8, "title": null}},
     "y2": {"field": "y1"}
    }
   },
   {
    "data": {"name": "labels"},
    "transform": [{"filter": "datum.p == 'N'"}],
    "mark": {"type": "text", "align": "right", "baseline": "alphabetic", "font": "Liberation Sans", "fontSize": 34, "color": "white"},
    "encoding": {
     "x": {"field": "x", "type": "quantitative", "scale": {"domain": [13.006, 26.446], "nice": false, "zero": false}, "axis": null},
     "y": {"field": "y", "type": "quantitative", "scale": {"domain": [0.00311, 0.05898], "nice": false, "zero": false}, "axis": null},
     "text": {"field": "t"}
    }
   }
  ]
 },
 {
  "width": 672, "height": 360,
  "resolve": {"scale": {"x": "independent", "y": "independent"}},
  "layer": [
   {
    "data": {"name": "mblk"},
    "mark": {"type": "rect"},
    "encoding": {
     "x": {"field": "x0", "type": "quantitative", "scale": {"domain": [13.026, 26.466], "nice": false, "zero": false}, "axis": {"orient": "bottom", "values": [16,17,18,19,20,21,22,23,24], "labels": false, "offset": -13.4, "title": null}},
     "x2": {"field": "x1"},
     "y": {"field": "y0", "type": "quantitative", "scale": {"domain": [0.002985, 0.057113], "nice": false, "zero": false}, "axis": {"orient": "left", "values": [0.01,0.02,0.03,0.04,0.05], "format": ".2f", "offset": -111.2, "labelPadding": 24, "title": "radius (deg)", "titleX": -89, "titleY": 180, "titleBaseline": "alphabetic", "titleAlign": "center", "titleAngle": -90}},
     "y2": {"field": "y1"},
     "color": {"field": "v", "type": "quantitative", "scale": {"domain": [0,1.25,2.5,3.75,5,6.25,7.5,8.75,10], "range": ["#3b4cc0","#6282ea","#8db0fe","#b8d0f9","#dddddd","#f5c4ad","#f49a7b","#de604d","#b40426"], "interpolate": "rgb", "clamp": true}, "legend": {"type": "gradient", "orient": "none", "legendX": 597, "legendY": 13, "direction": "vertical", "gradientLength": 333, "gradientThickness": 24, "labelOffset": 21, "values": [0,2,4,6,8,10], "title": null, "encode": {"labels": {"update": {"baseline": {"value": "middle"}, "dy": {"value": 4}}}}}}
    }
   },
   {
    "data": {"name": "mA"},
    "mark": {"type": "rect", "strokeWidth": 0.7},
    "encoding": {
     "x": {"field": "x", "type": "quantitative", "bin": {"extent": [17.5, 19.75], "step": 0.25, "nice": false}, "scale": {"domain": [13.026, 26.466], "nice": false, "zero": false}, "axis": null},
     "y": {"field": "y", "type": "quantitative", "bin": {"extent": [0.005, 0.055], "step": 0.0025, "nice": false}, "scale": {"domain": [0.002985, 0.057113], "nice": false, "zero": false}, "axis": null},
     "color": {"field": "v", "type": "quantitative", "scale": {"domain": [0,1.25,2.5,3.75,5,6.25,7.5,8.75,10], "range": ["#3b4cc0","#6282ea","#8db0fe","#b8d0f9","#dddddd","#f5c4ad","#f49a7b","#de604d","#b40426"], "interpolate": "rgb", "clamp": true}},
     "stroke": {"field": "v", "type": "quantitative", "scale": {"domain": [0,1.25,2.5,3.75,5,6.25,7.5,8.75,10.0001], "range": ["#3b4cc0","#6282ea","#8db0fe","#b8d0f9","#dddddd","#f5c4ad","#f49a7b","#de604d","#b40426"], "interpolate": "rgb", "clamp": true}, "legend": null}
    }
   },
   {
    "data": {"name": "mB"},
    "mark": {"type": "rect", "strokeWidth": 0.7},
    "encoding": {
     "x": {"field": "x", "type": "quantitative", "bin": {"extent": [19.75, 24.75], "step": 0.5, "nice": false}, "scale": {"domain": [13.026, 26.466], "nice": false, "zero": false}, "axis": null},
     "y": {"field": "y", "type": "quantitative", "bin": {"extent": [0.005, 0.055], "step": 0.0025, "nice": false}, "scale": {"domain": [0.002985, 0.057113], "nice": false, "zero": false}, "axis": null},
     "color": {"field": "v", "type": "quantitative", "scale": {"domain": [0,1.25,2.5,3.75,5,6.25,7.5,8.75,10], "range": ["#3b4cc0","#6282ea","#8db0fe","#b8d0f9","#dddddd","#f5c4ad","#f49a7b","#de604d","#b40426"], "interpolate": "rgb", "clamp": true}},
     "stroke": {"field": "v", "type": "quantitative", "scale": {"domain": [0,1.25,2.5,3.75,5,6.25,7.5,8.75,10.0001], "range": ["#3b4cc0","#6282ea","#8db0fe","#b8d0f9","#dddddd","#f5c4ad","#f49a7b","#de604d","#b40426"], "interpolate": "rgb", "clamp": true}, "legend": null}
    }
   },
   {
    "data": {"name": "frame"},
    "mark": {"type": "rect", "fill": "transparent", "stroke": "#333", "strokeWidth": 1.2},
    "encoding": {
     "x": {"field": "x0", "type": "quantitative", "scale": {"domain": [13.026, 26.466], "nice": false, "zero": false}, "axis": {"orient": "top", "values": [16,17,18,19,20,21,22,23,24], "labels": false, "offset": -14.05, "title": null}},
     "x2": {"field": "x1"},
     "y": {"field": "y0", "type": "quantitative", "scale": {"domain": [0.002985, 0.057113], "nice": false, "zero": false}, "axis": {"orient": "right", "values": [0.01,0.02,0.03,0.04,0.05], "labels": false, "offset": -85.8, "title": null}},
     "y2": {"field": "y1"}
    }
   },
   {
    "data": {"name": "labels"},
    "transform": [{"filter": "datum.p == 'M'"}],
    "mark": {"type": "text", "align": "right", "baseline": "alphabetic", "font": "Liberation Sans", "fontSize": 34, "color": "white"},
    "encoding": {
     "x": {"field": "x", "type": "quantitative", "scale": {"domain": [13.026, 26.466], "nice": false, "zero": false}, "axis": null},
     "y": {"field": "y", "type": "quantitative", "scale": {"domain": [0.002985, 0.057113], "nice": false, "zero": false}, "axis": null},
     "text": {"field": "t"}
    }
   }
  ]
 },
 {
  "width": 672, "height": 430,
  "resolve": {"scale": {"x": "independent", "y": "independent"}},
  "layer": [
   {
    "data": {"name": "fblk"},
    "mark": {"type": "rect", "strokeWidth": 0.7},
    "encoding": {
     "x": {"field": "x0", "type": "quantitative", "scale": {"domain": [13.0452, 26.5528], "nice": false, "zero": false}, "axis": {"orient": "bottom", "values": [16,17,18,19,20,21,22,23,24], "offset": -84.5, "labelPadding": 31, "title": "magnitude", "titleX": 347, "titleY": 78.5, "titleBaseline": "alphabetic", "titleAlign": "center"}},
     "x2": {"field": "x1"},
     "y": {"field": "y0", "type": "quantitative", "scale": {"domain": [-0.007726, 0.057033], "nice": false, "zero": false}, "axis": {"orient": "left", "values": [0.01,0.02,0.03,0.04,0.05], "format": ".2f", "offset": -109.7, "labelPadding": 24, "title": "radius (deg)", "titleX": -89, "titleY": 178, "titleBaseline": "alphabetic", "titleAlign": "center", "titleAngle": -90}},
     "y2": {"field": "y1"},
     "color": {"field": "v", "type": "quantitative", "scale": {"domain": [-3,-2.5625,-2.125,-1.6875,-1.25,-0.8125,-0.375,0.0625,0.5], "range": ["#3b4cc0","#6282ea","#8db0fe","#b8d0f9","#dddddd","#f5c4ad","#f49a7b","#de604d","#b40426"], "interpolate": "rgb", "clamp": true}, "legend": {"type": "gradient", "orient": "none", "legendX": 594, "legendY": 13, "direction": "vertical", "gradientLength": 330, "gradientThickness": 22, "labelOffset": 19, "values": [-3,-2.5,-2,-1.5,-1,-0.5,0,0.5], "labelExpr": "datum.value < 0 ? '-' + format(-datum.value, '~g') : format(datum.value, '~g')", "title": null, "encode": {"labels": {"update": {"baseline": {"value": "middle"}, "dy": {"value": 4}}}}}},
     "stroke": {"field": "v", "type": "quantitative", "scale": {"domain": [-3,-2.5625,-2.125,-1.6875,-1.25,-0.8125,-0.375,0.0625,0.5001], "range": ["#3b4cc0","#6282ea","#8db0fe","#b8d0f9","#dddddd","#f5c4ad","#f49a7b","#de604d","#b40426"], "interpolate": "rgb", "clamp": true}, "legend": null}
    }
   },
   {
    "data": {"name": "fC"},
    "mark": {"type": "rect", "strokeWidth": 0.7},
    "encoding": {
     "x": {"field": "x", "type": "quantitative", "bin": {"extent": [16.5, 19.75], "step": 0.25, "nice": false}, "scale": {"domain": [13.0452, 26.5528], "nice": false, "zero": false}, "axis": null},
     "y": {"field": "y", "type": "quantitative", "bin": {"extent": [0.005, 0.055], "step": 0.0025, "nice": false}, "scale": {"domain": [-0.007726, 0.057033], "nice": false, "zero": false}, "axis": null},
     "color": {"field": "v", "type": "quantitative", "scale": {"domain": [-3,-2.5625,-2.125,-1.6875,-1.25,-0.8125,-0.375,0.0625,0.5], "range": ["#3b4cc0","#6282ea","#8db0fe","#b8d0f9","#dddddd","#f5c4ad","#f49a7b","#de604d","#b40426"], "interpolate": "rgb", "clamp": true}},
     "stroke": {"field": "v", "type": "quantitative", "scale": {"domain": [-3,-2.5625,-2.125,-1.6875,-1.25,-0.8125,-0.375,0.0625,0.5001], "range": ["#3b4cc0","#6282ea","#8db0fe","#b8d0f9","#dddddd","#f5c4ad","#f49a7b","#de604d","#b40426"], "interpolate": "rgb", "clamp": true}, "legend": null}
    }
   },
   {
    "data": {"name": "frame"},
    "mark": {"type": "rect", "fill": "transparent", "stroke": "#333", "strokeWidth": 1.2},
    "encoding": {
     "x": {"field": "x0", "type": "quantitative", "scale": {"domain": [13.0452, 26.5528], "nice": false, "zero": false}, "axis": {"orient": "top", "values": [16,17,18,19,20,21,22,23,24], "labels": false, "offset": -13.5, "title": null}},
     "x2": {"field": "x1"},
     "y": {"field": "y0", "type": "quantitative", "scale": {"domain": [-0.007726, 0.057033], "nice": false, "zero": false}, "axis": {"orient": "right", "values": [0.01,0.02,0.03,0.04,0.05], "labels": false, "offset": -89.7, "title": null}},
     "y2": {"field": "y1"}
    }
   },
   {
    "data": {"name": "labels"},
    "transform": [{"filter": "datum.p == 'F'"}],
    "mark": {"type": "text", "align": "right", "baseline": "alphabetic", "font": "Liberation Sans", "fontSize": 34, "color": "white"},
    "encoding": {
     "x": {"field": "x", "type": "quantitative", "scale": {"domain": [13.0452, 26.5528], "nice": false, "zero": false}, "axis": null},
     "y": {"field": "y", "type": "quantitative", "scale": {"domain": [-0.007726, 0.057033], "nice": false, "zero": false}, "axis": null},
     "text": {"field": "t"}
    }
   }
  ]
 }
]
}
